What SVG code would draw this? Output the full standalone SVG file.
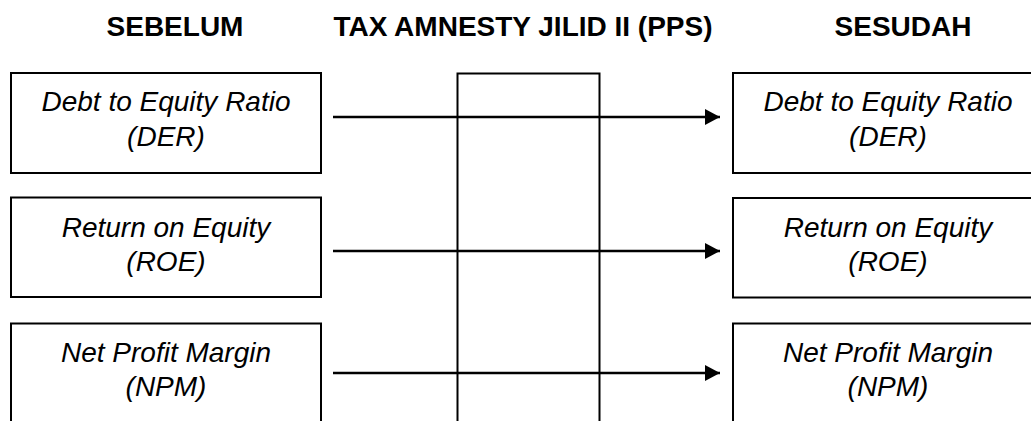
<svg xmlns="http://www.w3.org/2000/svg" width="1031" height="421" viewBox="0 0 1031 421">
  <defs>
    <style>
      .box { fill: #fff; stroke: #000; stroke-width: 2; }
      .mid { fill: none; stroke: #000; stroke-width: 2; }
      .head { font-family: "Liberation Sans", Arial, sans-serif; font-weight: bold; font-size: 28px; fill: #000; text-anchor: middle; }
      .lbl { font-family: "Liberation Sans", Arial, sans-serif; font-style: italic; font-size: 28px; fill: #000; text-anchor: middle; }
      .conn { stroke: #000; stroke-width: 2.5; fill: none; }
    </style>
    <marker id="arrow" markerWidth="15" markerHeight="16" refX="15" refY="8" orient="auto" markerUnits="userSpaceOnUse">
      <path d="M0,0 L15,8 L0,16 Z" fill="#000"/>
    </marker>
  </defs>
  <rect width="1031" height="421" fill="#fff"/>

  <g id="headings">
    <text class="head" x="175" y="36">SEBELUM</text>
    <text class="head" x="523" y="36">TAX AMNESTY JILID II (PPS)</text>
    <text class="head" x="903" y="36">SESUDAH</text>
  </g>

  <g id="pps">
    <path class="mid" d="M457.5,430 V73.5 H599.5 V430"/>
  </g>

  <g id="sebelum-der">
    <rect class="box" x="11" y="73" width="310" height="100"/>
    <text class="lbl" x="166" y="111">Debt to Equity Ratio</text>
    <text class="lbl" x="166" y="146">(DER)</text>
  </g>
  <g id="sebelum-roe">
    <rect class="box" x="11" y="197.5" width="310" height="99.5"/>
    <text class="lbl" x="166" y="237">Return on Equity</text>
    <text class="lbl" x="166" y="271">(ROE)</text>
  </g>
  <g id="sebelum-npm">
    <rect class="box" x="11" y="323.5" width="310" height="120"/>
    <text class="lbl" x="166" y="362">Net Profit Margin</text>
    <text class="lbl" x="166" y="396">(NPM)</text>
  </g>

  <g id="sesudah-der">
    <rect class="box" x="733" y="73" width="310" height="100"/>
    <text class="lbl" x="888" y="111">Debt to Equity Ratio</text>
    <text class="lbl" x="888" y="146">(DER)</text>
  </g>
  <g id="sesudah-roe">
    <rect class="box" x="733" y="198" width="310" height="99.5"/>
    <text class="lbl" x="888" y="237">Return on Equity</text>
    <text class="lbl" x="888" y="271">(ROE)</text>
  </g>
  <g id="sesudah-npm">
    <rect class="box" x="733" y="323.5" width="310" height="120"/>
    <text class="lbl" x="888" y="362">Net Profit Margin</text>
    <text class="lbl" x="888" y="396">(NPM)</text>
  </g>

  <g id="connectors">
    <line class="conn" x1="333" y1="117" x2="720" y2="117" marker-end="url(#arrow)"/>
    <line class="conn" x1="333" y1="251" x2="720" y2="251" marker-end="url(#arrow)"/>
    <line class="conn" x1="333" y1="373" x2="720" y2="373" marker-end="url(#arrow)"/>
  </g>
</svg>
